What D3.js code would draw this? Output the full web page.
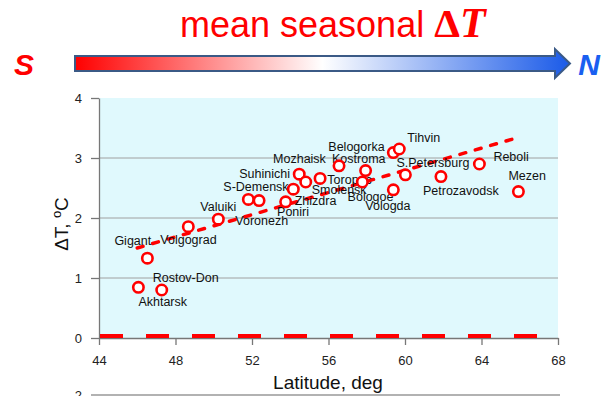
<!DOCTYPE html>
<html>
<head>
<meta charset="utf-8">
<script src="https://cdn.jsdelivr.net/npm/d3@7"></script>
<style>
  body { margin: 0; background: #fff; }
  svg { display: block; font-family: "Liberation Sans", Arial, sans-serif; }
</style>
</head>
<body>
<div id="chart"></div>
<script>
let width = 615;
let height = 396;

// station data
let stations = ["Akhtarsk", "Gigant", "Rostov-Don", "Volgograd", "Valuiki", "Voronezh",
  "Poniri", "Zhizdra", "S-Demensk", "Suhinichi", "Smolensk", "Mozhaisk", "Kostroma",
  "Toropec", "Bologoe", "Belogorka", "Tihvin", "Vologda", "S.Petersburg",
  "Petrozavodsk", "Reboli", "Mezen"];
let latitudes = [46.06, 46.53, 47.28, 48.67, 50.24, 51.81, 52.37, 53.76, 54.16, 54.47,
  54.81, 55.56, 56.55, 57.77, 57.94, 59.39, 59.70, 59.39, 60.02, 61.88, 63.89, 65.93];
let deltaT = [0.845, 1.33, 0.80, 1.855, 1.98, 2.31, 2.29, 2.27, 2.48, 2.73,
  2.60, 2.66, 2.87, 2.60, 2.79, 3.09, 3.15, 2.47, 2.72, 2.69, 2.90, 2.44];
let trendLat = [46.0, 66.0];
let trendDT = [1.5, 3.35];
let xTicks = [44, 48, 52, 56, 60, 64, 68];
let yTicks = [0, 1, 2, 3, 4];

// label placement relative to each point (pixels)
let labelOffsets = [[0, 14], [-33, -18], [-9, -13], [-28, 13], [-18, -13], [-13, 21],
  [18, 11], [9, -1], [-70, -3], [-60, -1], [6, 7], [-47, -20], [-7, -7], [-35, -3],
  [-18, 26], [-65, -6], [8, -12], [-28, 16], [-9, -12], [-18, 14], [14, -8], [-10, -16]];

let svg = d3.select("#chart").append("svg")
  .attr("width", width)
  .attr("height", height);

let xScale = d3.scaleLinear().domain([44, 68]).range([99, 558]);
let yScale = d3.scaleLinear().domain([0, 4]).range([338, 98]);

// ---- title + arrow ----
let defs = svg.append("defs");
let grad = defs.append("linearGradient").attr("id", "sn")
  .attr("x1", "0%").attr("x2", "100%").attr("y1", "0%").attr("y2", "0%");
grad.append("stop").attr("offset", "0%").attr("stop-color", "#ff0000");
grad.append("stop").attr("offset", "50%").attr("stop-color", "#ffffff");
grad.append("stop").attr("offset", "100%").attr("stop-color", "#1a5ae8");

let title = svg.append("text")
  .attr("x", 180).attr("y", 37)
  .attr("fill", "#ff0000")
  .style("font-size", "36px");
title.append("tspan").text("mean seasonal ");
title.append("tspan").text("Δ")
  .style("font-family", "'Liberation Serif', serif").style("font-weight", "bold")
  .style("font-size", "41px");
title.append("tspan").text("T")
  .style("font-family", "'Liberation Serif', serif").style("font-weight", "bold")
  .style("font-style", "italic").style("font-size", "42px");

svg.append("path")
  .attr("d", "M75,56 H555 V49 L570,63.5 L555,78 V71 H75 Z")
  .attr("fill", "url(#sn)")
  .attr("stroke", "#3b5a86")
  .attr("stroke-width", 2);

svg.append("text").text("S")
  .attr("x", 24).attr("y", 75).attr("text-anchor", "middle")
  .attr("fill", "#ff0000")
  .style("font-size", "30px").style("font-weight", "bold").style("font-style", "italic");
svg.append("text").text("N")
  .attr("x", 589).attr("y", 75).attr("text-anchor", "middle")
  .attr("fill", "#1a5ff0")
  .style("font-size", "30px").style("font-weight", "bold").style("font-style", "italic");

// ---- plot area ----
svg.append("rect")
  .attr("x", xScale(44)).attr("y", yScale(4))
  .attr("width", xScale(68) - xScale(44))
  .attr("height", yScale(0) - yScale(4))
  .attr("fill", "#e0f9fd");

svg.selectAll(".grid").data([1, 2, 3]).enter()
  .append("line")
  .attr("class", "grid")
  .attr("x1", xScale(44)).attr("x2", xScale(68))
  .attr("y1", d => yScale(d)).attr("y2", d => yScale(d))
  .attr("stroke", "#a0a0a0").attr("stroke-width", 1);

let yAxis = d3.axisLeft(yScale).tickValues(yTicks).tickFormat(d3.format("d"))
  .tickSize(8).tickSizeOuter(0).tickPadding(9);
let xAxis = d3.axisBottom(xScale).tickValues(xTicks).tickFormat(d3.format("d"))
  .tickSize(7).tickSizeOuter(0).tickPadding(11);

let yG = svg.append("g").attr("transform", "translate(" + xScale(44) + ",0)").call(yAxis);
let xG = svg.append("g").attr("transform", "translate(0," + yScale(0) + ")").call(xAxis);
[yG, xG].forEach(g => {
  g.selectAll("path, line").attr("stroke", "#777").attr("stroke-width", 1.3);
  g.selectAll("text").attr("fill", "#222")
    .style("font-size", "13px").style("font-family", "'Liberation Sans', Arial, sans-serif");
});

// zero reference dashes
svg.append("line")
  .attr("x1", xScale(44) + 1).attr("x2", xScale(68))
  .attr("y1", yScale(0) - 2).attr("y2", yScale(0) - 2)
  .attr("stroke", "#ff0000").attr("stroke-width", 4)
  .attr("stroke-dasharray", "23,23");

// trend line
svg.append("line")
  .attr("x1", xScale(trendLat[0])).attr("y1", yScale(trendDT[0]))
  .attr("x2", xScale(trendLat[1])).attr("y2", yScale(trendDT[1]))
  .attr("stroke", "#ff0000").attr("stroke-width", 3.5)
  .attr("stroke-linecap", "round")
  .attr("stroke-dasharray", "6,10");

// points
let pts = stations.map((name, i) => ({ name: name, lat: latitudes[i], dt: deltaT[i], off: labelOffsets[i] }));

svg.selectAll(".lab").data(pts).enter()
  .append("text")
  .attr("class", "lab")
  .attr("x", d => xScale(d.lat) + d.off[0])
  .attr("y", d => yScale(d.dt) + d.off[1] + 4.5)
  .text(d => d.name)
  .attr("fill", "#111")
  .style("font-size", "12.5px");

svg.selectAll(".pt").data(pts).enter()
  .append("circle")
  .attr("class", "pt")
  .attr("cx", d => xScale(d.lat))
  .attr("cy", d => yScale(d.dt))
  .attr("r", 5.2)
  .attr("fill", "#fff")
  .attr("stroke", "#ff0000")
  .attr("stroke-width", 2.6);

// axis titles
svg.append("text").text("Latitude, deg")
  .attr("x", 328).attr("y", 389).attr("text-anchor", "middle")
  .attr("fill", "#111").style("font-size", "19px");

let yt = svg.append("text")
  .attr("transform", "translate(68,224) rotate(-90)")
  .attr("text-anchor", "middle")
  .attr("fill", "#111").style("font-size", "19px");
yt.append("tspan").text("ΔT, ");
yt.append("tspan").text("o").style("font-size", "13px").attr("dy", -7);
yt.append("tspan").text("C").attr("dy", 7);

// top of the next panel, cut off at the bottom
svg.append("line")
  .attr("x1", 91).attr("x2", 560)
  .attr("y1", 395).attr("y2", 395)
  .attr("stroke", "#999").attr("stroke-width", 1.3);
svg.append("text").text("2")
  .attr("x", 82).attr("y", 400).attr("text-anchor", "end")
  .attr("fill", "#222").style("font-size", "13px");
</script>
</body>
</html>
